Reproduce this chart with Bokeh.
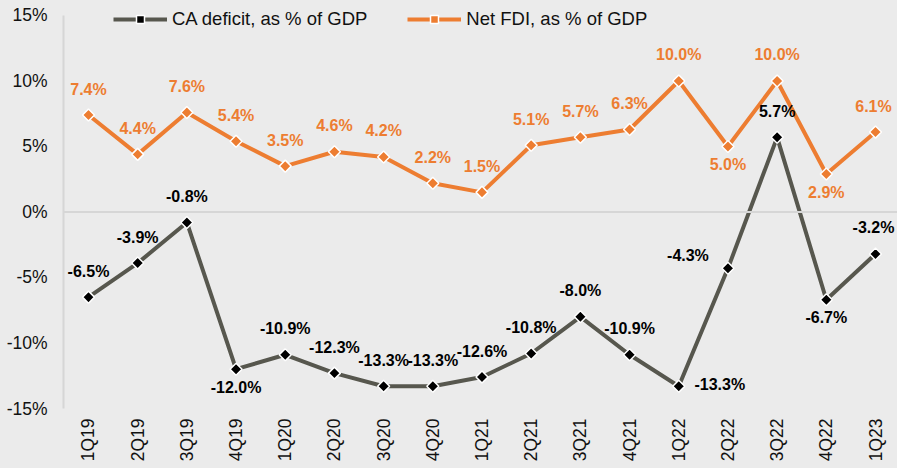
import math
from bokeh.plotting import figure
from bokeh.models import FixedTicker, Span, Legend, LegendItem, ColumnDataSource, Range1d
from bokeh.embed import file_html
from bokeh.resources import INLINE
from bokeh.core.properties import value

# ---- data ----
quarters = ["1Q19", "2Q19", "3Q19", "4Q19", "1Q20", "2Q20", "3Q20", "4Q20", "1Q21",
            "2Q21", "3Q21", "4Q21", "1Q22", "2Q22", "3Q22", "4Q22", "1Q23"]
ca_deficit = [-6.5, -3.9, -0.8, -12.0, -10.9, -12.3, -13.3, -13.3, -12.6,
              -10.8, -8.0, -10.9, -13.3, -4.3, 5.7, -6.7, -3.2]
net_fdi = [7.4, 4.4, 7.6, 5.4, 3.5, 4.6, 4.2, 2.2, 1.5,
           5.1, 5.7, 6.3, 10.0, 5.0, 10.0, 2.9, 6.1]
y_ticks = [-15, -10, -5, 0, 5, 10, 15]
y_tick_labels = ["-15%", "-10%", "-5%", "0%", "5%", "10%", "15%"]
ca_name = "CA deficit, as % of GDP"
fdi_name = "Net FDI, as % of GDP"

# ---- label placement (style) ----
ca_label_pos = ["above", "above", "above", "below", "above", "above", "above", "above", "above",
                "above", "above", "above", "right", "left", "above", "below", "above_edge"]
fdi_label_pos = ["above"] * 13 + ["below", "above", "below", "above_edge"]
OFFS = {"above": (0, -26), "below": (0, 18), "right": (41, -2), "left": (-40, -13),
        "above_edge": (-2, -26)}

CA_COLOR = "#57574e"
FDI_COLOR = "#ED7D31"
BG = "#ebebeb"
FONT = "Liberation Sans"

xs = list(range(len(quarters)))

p = figure(frame_width=834, frame_height=408, output_backend="svg", toolbar_location=None,
           x_range=Range1d(-0.508, 16.447), y_range=Range1d(-15, 16.145),
           min_border_left=63, min_border_right=0, min_border_top=0, min_border_bottom=0)
p.background_fill_color = BG
p.border_fill_color = BG
p.outline_line_color = None
p.xgrid.visible = False
p.ygrid.visible = False

p.add_layout(Span(location=0, dimension="width", line_color="#d6d6d6", line_width=2))

def src(vals, pos):
    return ColumnDataSource(dict(
        x=xs, y=vals, lab=[f"{v:.1f}%" for v in vals],
        dx=[OFFS[k][0] for k in pos], dy=[OFFS[k][1] for k in pos]))

ca_src = src(ca_deficit, ca_label_pos)
fdi_src = src(net_fdi, fdi_label_pos)

ca_line = p.line("x", "y", source=ca_src, line_color=CA_COLOR, line_width=4)
fdi_line = p.line("x", "y", source=fdi_src, line_color=FDI_COLOR, line_width=4)
ca_mk = p.scatter("x", "y", source=ca_src, marker="square", angle=math.pi / 4, size=8.5,
                  fill_color="black", line_color="white", line_width=1.5)
fdi_mk = p.scatter("x", "y", source=fdi_src, marker="square", angle=math.pi / 4, size=8.5,
                   fill_color=FDI_COLOR, line_color="white", line_width=1.5)

for s, col in ((ca_src, "black"), (fdi_src, FDI_COLOR)):
    p.text("x", "y", text="lab", source=s, x_offset="dx", y_offset="dy",
           text_font=value(FONT), text_font_style="bold", text_font_size="16px",
           text_color=col, text_align="center", text_baseline="middle")

# axes
p.yaxis.ticker = FixedTicker(ticks=y_ticks)
p.yaxis.major_label_overrides = {t: l for t, l in zip(y_ticks, y_tick_labels)}
p.yaxis.bounds = (-15, 15)
p.yaxis.axis_line_color = "#d6d6d6"
p.yaxis.axis_line_width = 2
p.yaxis.major_tick_line_color = None
p.yaxis.major_tick_out = 0
p.yaxis.minor_tick_line_color = None
p.yaxis.major_label_standoff = 16
p.yaxis.major_label_text_font = FONT
p.yaxis.major_label_text_font_size = "17.5px"
p.yaxis.major_label_text_color = "#111111"

p.xaxis.ticker = FixedTicker(ticks=xs)
p.xaxis.major_label_overrides = {i: q for i, q in zip(xs, quarters)}
p.xaxis.axis_line_color = None
p.xaxis.major_tick_line_color = None
p.xaxis.major_tick_out = 0
p.xaxis.minor_tick_line_color = None
p.xaxis.major_label_orientation = math.pi / 2
p.xaxis.major_label_standoff = 10
p.xaxis.major_label_text_font = FONT
p.xaxis.major_label_text_font_size = "17.5px"
p.xaxis.major_label_text_color = "#111111"

legend = Legend(items=[LegendItem(label=ca_name, renderers=[ca_line, ca_mk]),
                       LegendItem(label=fdi_name, renderers=[fdi_line, fdi_mk])],
                orientation="horizontal", location=(50, 378),
                glyph_width=54, glyph_height=20, label_standoff=5, spacing=40,
                padding=0, margin=0, background_fill_alpha=0, border_line_color=None,
                label_text_font=FONT, label_text_font_size="18.5px", label_text_color="#111111")
p.add_layout(legend)

html = file_html(p, INLINE)
html = html.replace("</head>", "<style>html,body{background:%s;}</style></head>" % BG, 1)
open("out.html", "w").write(html)
